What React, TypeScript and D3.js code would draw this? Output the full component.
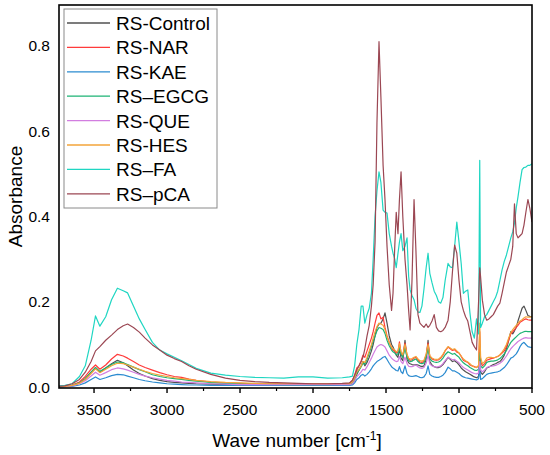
import React from 'react';
import * as d3 from 'd3';

const waveNumbers = [
  3740, 3700, 3650, 3600, 3560, 3520, 3490, 3460, 3420, 3380,
  3340, 3300, 3270, 3230, 3190, 3150, 3100, 3050, 3000, 2950,
  2900, 2850, 2800, 2700, 2600, 2500, 2400, 2300, 2200, 2100,
  2000, 1900, 1800,
  1750, 1730, 1715, 1700, 1685, 1670, 1658, 1645, 1630, 1615,
  1600, 1588, 1575, 1562, 1548, 1535, 1520, 1507, 1493, 1478,
  1462, 1452, 1440, 1430, 1418, 1408, 1397, 1385, 1370, 1356,
  1345, 1335, 1322, 1308, 1295, 1281, 1268, 1254, 1240, 1225,
  1212, 1200, 1185, 1170, 1155, 1140, 1125, 1110, 1095, 1075,
  1060, 1045, 1030, 1015, 1000, 985, 970, 955, 940, 925,
  910, 895, 880, 866, 858, 852, 840, 825, 810, 795,
  780, 765, 750, 735, 720, 705, 690, 675, 660, 645,
  632, 620, 608, 596, 582, 568, 555, 542, 528, 515,
  500,
];

const rsControl = [
  0.001, 0.002, 0.004, 0.01, 0.02, 0.035, 0.045, 0.035, 0.045, 0.055,
  0.063, 0.057, 0.05, 0.04, 0.032, 0.026, 0.02, 0.016, 0.013, 0.011,
  0.01, 0.009, 0.008, 0.007, 0.006, 0.006, 0.006, 0.005, 0.005, 0.005,
  0.005, 0.005, 0.005,
  0.006, 0.008, 0.015, 0.03, 0.04, 0.05, 0.06, 0.05, 0.058, 0.07,
  0.085, 0.1, 0.12, 0.14, 0.148, 0.15, 0.16, 0.174, 0.15, 0.12,
  0.1, 0.094, 0.085, 0.075, 0.07, 0.09, 0.068, 0.062, 0.11, 0.065,
  0.057, 0.055, 0.053, 0.052, 0.053, 0.052, 0.05, 0.048, 0.05, 0.065,
  0.11, 0.06, 0.052, 0.048, 0.046, 0.046, 0.048, 0.053, 0.06, 0.07,
  0.065, 0.06, 0.062, 0.058, 0.052, 0.045, 0.04, 0.036, 0.033, 0.03,
  0.027, 0.024, 0.022, 0.025, 0.1, 0.035, 0.03, 0.036, 0.045, 0.047,
  0.05, 0.053, 0.055, 0.058, 0.06, 0.066, 0.075, 0.09, 0.11, 0.13,
  0.125, 0.132, 0.14, 0.155, 0.17, 0.185, 0.19, 0.18, 0.168, 0.166,
  0.165,
];

const rsNar = [
  0.002, 0.003, 0.005, 0.012, 0.025, 0.042, 0.052, 0.042, 0.052, 0.066,
  0.077, 0.073, 0.068, 0.06, 0.052, 0.046, 0.04, 0.034, 0.029, 0.025,
  0.023, 0.019, 0.016, 0.012, 0.01, 0.009, 0.008, 0.008, 0.007, 0.007,
  0.007, 0.007, 0.008,
  0.009, 0.015, 0.028, 0.045, 0.05, 0.062, 0.075, 0.07, 0.085, 0.1,
  0.115, 0.13, 0.15, 0.168, 0.174, 0.16, 0.164, 0.14, 0.12, 0.105,
  0.092, 0.087, 0.084, 0.08, 0.082, 0.106, 0.08, 0.072, 0.103, 0.075,
  0.066, 0.063, 0.064, 0.068, 0.07, 0.064, 0.059, 0.058, 0.06, 0.075,
  0.103, 0.072, 0.066, 0.064, 0.063, 0.064, 0.068, 0.075, 0.085, 0.094,
  0.09, 0.086, 0.088, 0.082, 0.08, 0.072, 0.063, 0.06, 0.058, 0.052,
  0.05, 0.048, 0.046, 0.05, 0.13, 0.06, 0.05, 0.055, 0.063, 0.065,
  0.067, 0.068, 0.07, 0.072, 0.075, 0.08, 0.085, 0.095, 0.11, 0.125,
  0.13, 0.135, 0.14, 0.145, 0.152, 0.155, 0.158, 0.16, 0.158, 0.157,
  0.157,
];

const rsKae = [
  0.001, 0.001, 0.002, 0.005, 0.01, 0.018, 0.024, 0.018, 0.022, 0.027,
  0.03, 0.029, 0.026, 0.022, 0.018, 0.015, 0.012, 0.01, 0.008, 0.007,
  0.006, 0.005, 0.005, 0.004, 0.004, 0.004, 0.004, 0.004, 0.004, 0.004,
  0.004, 0.004, 0.004,
  0.004, 0.005, 0.01, 0.018, 0.022, 0.028, 0.03, 0.026, 0.03, 0.036,
  0.043, 0.05, 0.055, 0.06, 0.063, 0.066, 0.07, 0.072, 0.065, 0.056,
  0.048, 0.045, 0.042, 0.039, 0.038, 0.048, 0.036, 0.032, 0.05, 0.032,
  0.027, 0.026, 0.025, 0.026, 0.027, 0.025, 0.023, 0.022, 0.024, 0.032,
  0.05, 0.03, 0.026, 0.024, 0.023, 0.023, 0.025, 0.028, 0.034, 0.047,
  0.043, 0.038, 0.038, 0.035, 0.032, 0.027, 0.024, 0.022, 0.021, 0.02,
  0.019, 0.018, 0.017, 0.02, 0.045, 0.018, 0.02, 0.025, 0.03, 0.032,
  0.033, 0.034, 0.035, 0.036, 0.038, 0.042, 0.046, 0.052, 0.06, 0.068,
  0.07, 0.074, 0.078, 0.085, 0.095, 0.102, 0.105, 0.1, 0.095, 0.094,
  0.093,
];

const rsEgcg = [
  0.001, 0.002, 0.004, 0.01, 0.02, 0.035, 0.046, 0.037, 0.045, 0.053,
  0.059, 0.057, 0.053, 0.047, 0.041, 0.036, 0.029, 0.025, 0.022, 0.02,
  0.018, 0.016, 0.014, 0.011, 0.009, 0.008, 0.007, 0.007, 0.006, 0.006,
  0.006, 0.006, 0.007,
  0.007, 0.01, 0.02, 0.033, 0.04, 0.048, 0.056, 0.054, 0.065, 0.08,
  0.095, 0.108, 0.12, 0.132, 0.14, 0.138, 0.135, 0.126, 0.11, 0.097,
  0.087, 0.083, 0.08, 0.076, 0.078, 0.094, 0.076, 0.07, 0.092, 0.07,
  0.062, 0.06, 0.061, 0.064, 0.066, 0.06, 0.056, 0.055, 0.057, 0.07,
  0.092, 0.067, 0.061, 0.059, 0.058, 0.059, 0.062, 0.068, 0.076, 0.083,
  0.08, 0.077, 0.079, 0.074, 0.07, 0.063, 0.057, 0.053, 0.05, 0.046,
  0.043, 0.04, 0.039, 0.042, 0.08, 0.05, 0.045, 0.05, 0.058, 0.06,
  0.061, 0.061, 0.062, 0.064, 0.067, 0.072, 0.078, 0.086, 0.096, 0.105,
  0.11, 0.114, 0.118, 0.122, 0.126, 0.128, 0.13, 0.131, 0.13, 0.13,
  0.13,
];

const rsQue = [
  0.001, 0.002, 0.003, 0.008, 0.015, 0.026, 0.035, 0.028, 0.034, 0.041,
  0.045, 0.043, 0.04, 0.035, 0.03, 0.026, 0.022, 0.019, 0.016, 0.014,
  0.012, 0.011, 0.01, 0.008, 0.007, 0.006, 0.006, 0.006, 0.006, 0.006,
  0.006, 0.006, 0.006,
  0.006, 0.008, 0.015, 0.025, 0.03, 0.036, 0.042, 0.04, 0.048, 0.058,
  0.068, 0.077, 0.086, 0.094, 0.098, 0.1, 0.098, 0.094, 0.085, 0.075,
  0.068, 0.065, 0.062, 0.06, 0.061, 0.072, 0.06, 0.055, 0.07, 0.055,
  0.049, 0.048, 0.048, 0.05, 0.052, 0.048, 0.045, 0.044, 0.046, 0.056,
  0.075, 0.054, 0.05, 0.048, 0.047, 0.048, 0.05, 0.055, 0.062, 0.07,
  0.067, 0.064, 0.065, 0.061, 0.057, 0.051, 0.046, 0.043, 0.04, 0.037,
  0.034, 0.032, 0.031, 0.033, 0.06, 0.04, 0.036, 0.04, 0.046, 0.048,
  0.049, 0.05, 0.051, 0.053, 0.056, 0.06, 0.066, 0.073, 0.082, 0.09,
  0.095, 0.099, 0.103, 0.107, 0.11, 0.113, 0.115, 0.116, 0.115, 0.115,
  0.115,
];

const rsHes = [
  0.001, 0.002, 0.004, 0.009, 0.018, 0.032, 0.043, 0.034, 0.042, 0.05,
  0.056, 0.055, 0.052, 0.047, 0.042, 0.037, 0.032, 0.028, 0.025, 0.022,
  0.02, 0.018, 0.016, 0.013, 0.011, 0.01, 0.009, 0.008, 0.008, 0.008,
  0.008, 0.008, 0.008,
  0.008, 0.012, 0.022, 0.036, 0.042, 0.05, 0.06, 0.058, 0.07, 0.085,
  0.1, 0.115, 0.13, 0.142, 0.15, 0.148, 0.145, 0.135, 0.118, 0.105,
  0.094, 0.09, 0.087, 0.083, 0.085, 0.102, 0.083, 0.076, 0.1, 0.077,
  0.068, 0.066, 0.067, 0.07, 0.072, 0.066, 0.062, 0.061, 0.063, 0.078,
  0.1, 0.074, 0.068, 0.066, 0.065, 0.066, 0.07, 0.077, 0.086, 0.095,
  0.092, 0.088, 0.09, 0.085, 0.08, 0.073, 0.066, 0.062, 0.059, 0.055,
  0.05, 0.047, 0.046, 0.05, 0.15, 0.07, 0.055, 0.06, 0.068, 0.07,
  0.07, 0.069, 0.07, 0.072, 0.076, 0.082, 0.09, 0.1, 0.115, 0.128,
  0.135, 0.14, 0.145, 0.15, 0.155, 0.158, 0.162, 0.165, 0.164, 0.164,
  0.165,
];

const rsFa = [
  0.003, 0.004, 0.008, 0.025, 0.05, 0.11, 0.167, 0.143, 0.165, 0.205,
  0.232, 0.226, 0.221, 0.19, 0.16, 0.135, 0.105, 0.087, 0.078, 0.07,
  0.062, 0.053, 0.044, 0.033, 0.028, 0.025, 0.023, 0.022, 0.021, 0.024,
  0.024, 0.021, 0.022,
  0.024, 0.026, 0.05, 0.1, 0.135, 0.19, 0.19, 0.15, 0.17, 0.185,
  0.22, 0.3, 0.4, 0.46, 0.505, 0.48, 0.415, 0.41, 0.408, 0.36,
  0.33, 0.314, 0.3, 0.28, 0.314, 0.34, 0.36, 0.32, 0.33, 0.35,
  0.26, 0.228, 0.215, 0.205, 0.185, 0.176, 0.175, 0.19, 0.23, 0.28,
  0.314, 0.267, 0.245, 0.225, 0.215, 0.2, 0.197, 0.21, 0.25, 0.29,
  0.282, 0.28, 0.33, 0.387, 0.34, 0.29, 0.22, 0.225, 0.228, 0.174,
  0.13, 0.115, 0.16, 0.125, 0.532, 0.14, 0.15, 0.165, 0.17, 0.18,
  0.19, 0.2, 0.21, 0.225, 0.25, 0.275, 0.295, 0.31, 0.33, 0.35,
  0.364, 0.385, 0.42, 0.446, 0.48, 0.51, 0.515, 0.516, 0.52, 0.52,
  0.524,
];

const rsPca = [
  0.002, 0.003, 0.008, 0.018, 0.035, 0.06, 0.085, 0.095, 0.11, 0.122,
  0.135, 0.144, 0.148, 0.14, 0.129, 0.115, 0.099, 0.087, 0.075, 0.067,
  0.06, 0.05, 0.042, 0.03, 0.021, 0.016, 0.013, 0.011, 0.01, 0.009,
  0.008, 0.008, 0.009,
  0.01, 0.016, 0.028, 0.04, 0.05, 0.06, 0.07, 0.09, 0.12, 0.145,
  0.19, 0.24, 0.34, 0.62, 0.81, 0.68, 0.52, 0.44, 0.33, 0.24,
  0.18, 0.22, 0.33, 0.41, 0.36, 0.44, 0.505, 0.4, 0.3, 0.24,
  0.18, 0.134, 0.25, 0.44, 0.32, 0.17, 0.15, 0.145, 0.14, 0.148,
  0.14, 0.145, 0.155, 0.17, 0.14, 0.132, 0.13, 0.133, 0.14, 0.157,
  0.2, 0.27, 0.333, 0.314, 0.25, 0.2, 0.18, 0.165, 0.155, 0.13,
  0.105, 0.095, 0.087, 0.2, 0.28, 0.258, 0.204, 0.17, 0.157, 0.16,
  0.165, 0.17, 0.18, 0.19, 0.197, 0.22, 0.245, 0.27, 0.285, 0.3,
  0.33, 0.43, 0.36, 0.35, 0.355, 0.36, 0.38, 0.41, 0.44, 0.42,
  0.387,
];

const seriesNames = ['RS-Control', 'RS-NAR', 'RS-KAE', 'RS\u2013EGCG', 'RS-QUE', 'RS-HES', 'RS\u2013FA', 'RS\u2013pCA'];
const seriesColors = ['#505050', '#ff3b3b', '#2b8bd0', '#1db374', '#d27ee0', '#f3a43a', '#1fd6c2', '#9b4753'];
const seriesValues = [rsControl, rsNar, rsKae, rsEgcg, rsQue, rsHes, rsFa, rsPca];

const xMajorTicks = [3500, 3000, 2500, 2000, 1500, 1000, 500];
const xMinorTicks = [3250, 2750, 2250, 1750, 1250, 750];
const yTicks = [0, 0.2, 0.4, 0.6, 0.8];

const W = 550;
const H = 455;
const left = 59;
const right = 532;
const top = 5;
const bottom = 388;
const font = '"Liberation Sans", Arial, sans-serif';

export default function App() {
  const x = d3.scaleLinear().domain([3740, 500]).range([left, right]);
  const y = d3.scaleLinear().domain([-0.002, 0.896]).range([bottom, top]);

  const line = d3
    .line<[number, number]>()
    .x((d) => x(d[0]))
    .y((d) => y(d[1]));

  const paths = seriesValues.map((vals) => {
    const n = Math.min(vals.length, waveNumbers.length);
    const pts: [number, number][] = [];
    for (let i = 0; i < n; i++) pts.push([waveNumbers[i], vals[i]]);
    return line(pts) || '';
  });

  const legendX = 64;
  const legendY = 9;
  const legendW = 153;
  const legendH = 199;
  const rowH = 24.4;

  return (
    <svg
      width={W}
      height={H}
      viewBox={`0 0 ${W} ${H}`}
      style={{ position: 'absolute', left: 0, top: 0, background: '#fff' }}
    >
      <defs>
        <clipPath id="plotClip">
          <rect x={left} y={top} width={right - left} height={bottom - top} />
        </clipPath>
      </defs>
      <rect x={0} y={0} width={W} height={H} fill="#fff" />

      <g clipPath="url(#plotClip)">
        {paths.map((p, i) => (
          <path key={i} d={p} fill="none" stroke={seriesColors[i]} strokeWidth={1.2} strokeLinejoin="round" />
        ))}
      </g>

      {/* frame */}
      <rect x={left} y={top} width={right - left} height={bottom - top} fill="none" stroke="#000" strokeWidth={1.6} />

      {/* x ticks */}
      {xMajorTicks.map((t) => (
        <g key={'M' + t}>
          <line x1={x(t)} x2={x(t)} y1={bottom} y2={bottom + 5} stroke="#000" strokeWidth={1.4} />
          <text x={x(t)} y={415} textAnchor="middle" fontFamily={font} fontSize={15.5} fill="#000">
            {t}
          </text>
        </g>
      ))}
      {xMinorTicks.map((t) => (
        <line key={'m' + t} x1={x(t)} x2={x(t)} y1={bottom} y2={bottom + 3} stroke="#000" strokeWidth={1.2} />
      ))}

      {/* y tick labels */}
      {yTicks.map((t) => (
        <text key={'y' + t} x={50} y={y(t) + 5.5} textAnchor="end" fontFamily={font} fontSize={15.5} fill="#000">
          {t.toFixed(1)}
        </text>
      ))}

      {/* axis titles */}
      <text x={297} y={447} textAnchor="middle" fontFamily={font} fontSize={19} fill="#000">
        Wave number [cm<tspan dy={-7} fontSize={12}>-1</tspan>
        <tspan dy={7}>]</tspan>
      </text>
      <text
        transform={`translate(22, ${(top + bottom) / 2}) rotate(-90)`}
        textAnchor="middle"
        fontFamily={font}
        fontSize={19}
        fill="#000"
      >
        Absorbance
      </text>

      {/* legend */}
      <rect x={legendX} y={legendY} width={legendW} height={legendH} fill="#fff" stroke="#8a8a8a" strokeWidth={1} />
      {seriesNames.map((name, i) => {
        const cy = 23 + i * rowH;
        return (
          <g key={name}>
            <line x1={67} x2={110} y1={cy} y2={cy} stroke={seriesColors[i]} strokeWidth={1.3} />
            <text x={116} y={cy + 7} fontFamily={font} fontSize={19} fill="#000">
              {name}
            </text>
          </g>
        );
      })}
    </svg>
  );
}
